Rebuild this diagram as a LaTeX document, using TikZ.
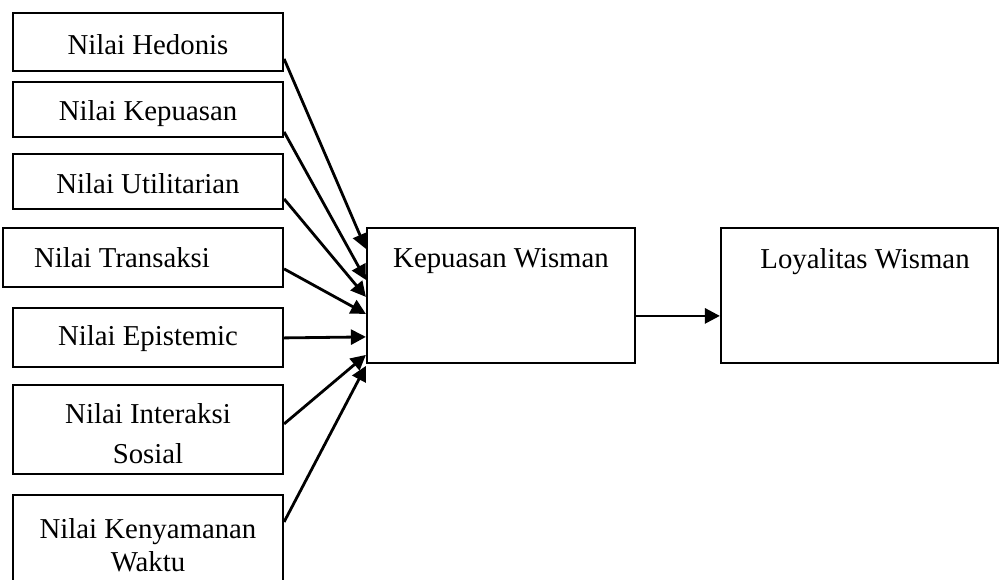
\documentclass[tikz,border=0pt]{standalone}
\usepackage{fontspec}
\setmainfont{Liberation Serif}
\usetikzlibrary{arrows.meta,calc,fit}
\begin{document}
\begin{tikzpicture}[x=0.5pt,y=-0.5pt,
  boxnode/.style={draw, line width=1.1pt, inner sep=0pt},
  lbl/.style={font=\fontsize{14.4}{17}\selectfont, inner sep=0pt, anchor=base},
  lbltwo/.style={inner sep=0pt, anchor=north, align=center},
  arr/.style={line width=1.4pt, -{Triangle[length=7.5pt,width=7.5pt]}}]
\useasboundingbox (0,0) rectangle (999,579);
\clip (0,0) rectangle (999,579);

% left boxes
\node[boxnode, fit={(13,13) (283,71)}] (h) {};
\node[boxnode, fit={(13,82) (283,137)}] (k) {};
\node[boxnode, fit={(13,154) (283,209)}] (u) {};
\node[boxnode, fit={(3,228) (283,287)}] (t) {};
\node[boxnode, fit={(13,308) (283,367)}] (e) {};
\node[boxnode, fit={(13,385) (283,474)}] (i) {};
\node[boxnode, fit={(13,495) (283,610)}] (w) {};

\node[lbl] (th) at (148,54) {Nilai Hedonis};
\node[lbl] (tk) at (148,120) {Nilai Kepuasan};
\node[lbl] (tu) at (148,193) {Nilai Utilitarian};
\node[lbl] (tt) at (122,267) {Nilai Transaksi};
\node[lbl] (te) at (148,345) {Nilai Epistemic};
\node[lbltwo, font=\fontsize{14.4}{20}\selectfont] (ti) at (148,403) {Nilai Interaksi\\Sosial};
\node[lbltwo, font=\fontsize{14.4}{16.5}\selectfont] (tw) at (148,518) {Nilai Kenyamanan\\Waktu};

% right boxes
\node[boxnode, fit={(367,228) (635,363)}] (kw) {};
\node[boxnode, fit={(721,228) (998,363)}] (lw) {};
\node[lbl] (tkw) at (501,267) {Kepuasan Wisman};
\node[lbl] (tlw) at (865,268) {Loyalitas Wisman};

% arrows
\draw[arr] ($(h.north east)+(0,47)$) -- ($(kw.north west)+(0,22)$);
\draw[arr] ($(k.north east)+(0,51)$) -- ($(kw.north west)+(0,53)$);
\draw[arr] ($(u.north east)+(0,46)$) -- ($(kw.north west)+(0,70)$);
\draw[arr] ($(t.north east)+(0,42)$) -- ($(kw.north west)+(0,87)$);
\draw[arr] ($(e.north east)+(0,31)$) -- ($(kw.north west)+(0,110)$);
\draw[arr] ($(i.north east)+(0,40)$) -- ($(kw.north west)+(0,128)$);
\draw[arr] ($(w.north east)+(0,28)$) -- ($(kw.north west)+(0,139)$);
\draw[arr] ($(kw.north east)+(0,89)$) -- ($(lw.north west)+(0,89)$);
\end{tikzpicture}
\end{document}
